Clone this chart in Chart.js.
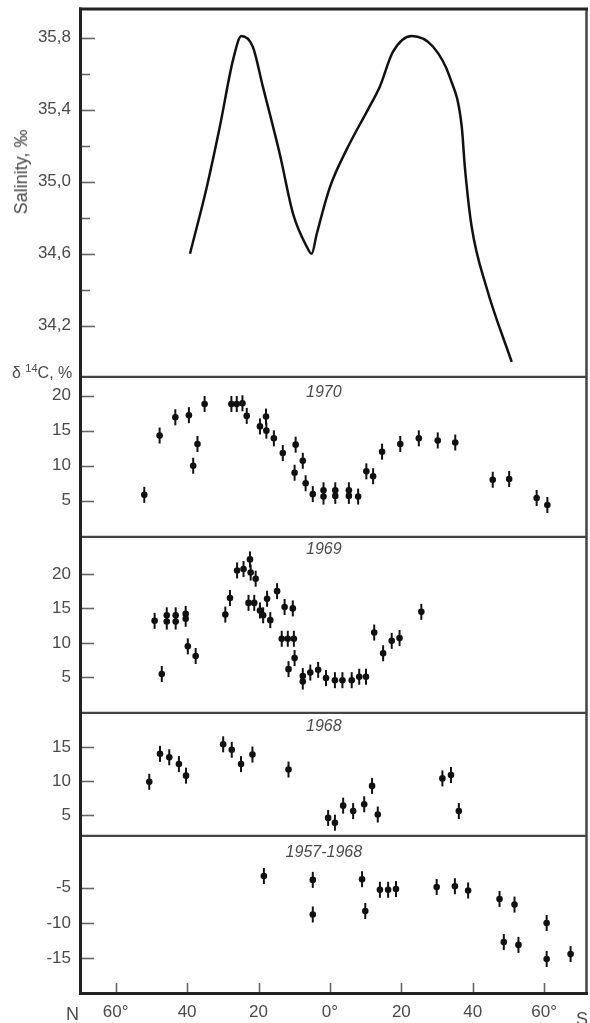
<!DOCTYPE html>
<html><head><meta charset="utf-8">
<script src="https://cdn.jsdelivr.net/npm/chart.js@4.4.1/dist/chart.umd.min.js"></script>
<style>
html,body{margin:0;padding:0;background:#fff;}
#wrap{position:relative;width:590px;height:1023px;overflow:hidden;font-family:"Liberation Sans",Arial,sans-serif;}
canvas{position:absolute;left:0;}
.lbl{position:absolute;color:#4a4a4a;font-size:16px;white-space:nowrap;line-height:1;}
.lbl sup{font-size:11px;vertical-align:6px;line-height:0;}
</style></head><body>
<div id="wrap">
<canvas id="c0" width="590" height="378" style="top:0"></canvas>
<canvas id="c1" width="590" height="160" style="top:378px"></canvas>
<canvas id="c2" width="590" height="176" style="top:538px"></canvas>
<canvas id="c3" width="590" height="123" style="top:714px"></canvas>
<canvas id="c4" width="590" height="186" style="top:837px"></canvas>
<div class="lbl" style="left:21px;top:172px;font-size:18px;transform:translate(-50%,-50%) rotate(-90deg);">Salinity, ‰</div>
<div class="lbl" style="left:12px;top:365px;">δ <sup>14</sup>C, %</div>
<div class="lbl" style="left:66px;top:1005px;font-size:18px;">N</div>
<div class="lbl" style="left:576px;top:1010px;font-size:18px;">S</div>
</div>
<script>
// ---- data ----
const salLat = [-39.2,-34.5,-30.8,-27.1,-24.8,-21.6,-18.8,-14.0,-10.3,-6.5,-5.1,-3.7,0,4.7,10.6,14.0,17.6,22.9,28.9,33.6,36.9,37.8,39.7,43.9,50.9];
const salVal = [34.60,34.97,35.31,35.68,35.81,35.75,35.53,35.15,34.82,34.64,34.60,34.71,34.97,35.18,35.40,35.53,35.72,35.81,35.75,35.58,35.31,35.08,34.75,34.41,34.00];
const salTicks = [34.2,34.4,34.6,34.8,35.0,35.2,35.4,35.6,35.8];
const salLabeled = [34.2,34.6,35.0,35.4,35.8];

const lat1970 = [-52.0,-47.7,-43.3,-39.5,-38.3,-37.1,-35.1,-27.6,-26.1,-24.5,-23.3,-19.6,-17.9,-17.8,-15.7,-13.2,-9.6,-9.9,-7.6,-6.8,-4.8,-1.8,-1.8,1.5,1.5,5.3,5.3,7.9,10.2,12.1,14.6,19.7,24.9,30.2,35.1,45.6,50.2,57.9,60.9];
const val1970 = [5.85,14.3,16.9,17.2,10.0,13.1,18.8,18.8,18.8,18.9,17.1,15.6,17.0,15.0,13.9,11.8,13.0,9.0,10.7,7.5,5.95,6.5,5.6,6.5,5.7,6.5,5.7,5.6,9.2,8.5,12.0,13.1,13.9,13.6,13.3,8.0,8.1,5.4,4.4];

const lat1969 = [-49.1,-47.1,-45.7,-45.7,-43.2,-43.2,-40.4,-40.4,-39.8,-37.6,-29.3,-28.0,-26.0,-24.2,-22.4,-22.2,-22.8,-21.2,-20.8,-19.6,-18.7,-17.6,-16.7,-14.8,-12.7,-13.5,-11.8,-10.1,-10.4,-11.6,-9.9,-7.6,-7.6,-5.5,-3.3,-1.1,1.4,3.5,6.1,8.2,10.1,12.4,14.9,17.3,19.5,25.6];
const val1969 = [13.2,5.5,14.0,13.1,14.0,13.1,14.2,13.5,9.5,8.1,14.1,16.5,20.5,20.7,22.1,20.2,15.8,15.8,19.3,14.7,14.0,16.4,13.3,17.5,15.2,10.6,10.6,10.6,15.0,6.2,7.8,5.2,4.4,5.7,6.1,4.9,4.6,4.6,4.6,5.1,5.1,11.5,8.5,10.3,10.7,14.5];

const lat1968 = [-50.6,-47.6,-45.0,-42.3,-40.3,-29.9,-27.5,-24.9,-21.7,-11.6,-0.5,1.4,3.7,6.5,9.6,11.8,13.4,31.5,33.9,36.1];
const val1968 = [9.9,14.0,13.5,12.5,10.8,15.4,14.6,12.5,13.9,11.7,4.6,3.9,6.4,5.6,6.6,9.3,5.1,10.4,10.9,5.6];

const latOld = [-18.5,-4.8,-4.8,9.0,9.9,14.0,16.3,18.5,29.9,35.0,38.7,47.5,51.7,48.7,52.8,60.7,60.7,67.4];
const valOld = [-3.35,-3.9,-8.8,-3.8,-8.3,-5.3,-5.3,-5.2,-4.9,-4.8,-5.4,-6.6,-7.4,-12.7,-13.1,-10.0,-15.1,-14.4];

const xTicks = [-60,-40,-20,0,20,40,60];
const xTickLabels = ['60°','40','20','0°','20','40','60°'];

// ---- helpers ----
const FONT = "'Liberation Sans', Arial, sans-serif";
const TXT = '#4a4a4a';
function pts(xs, ys){ return xs.map((x,i)=>({x:x, y:ys[i]})); }
function zeroPad(s){ s.paddingTop = 0; s.paddingBottom = 0; s.paddingLeft = 0; s.paddingRight = 0; }

function frame(o){
  return { id:'frame', afterDraw(chart){
    const ctx = chart.ctx, a = chart.chartArea, ys = chart.scales.y, xs = chart.scales.x;
    ctx.save();
    ctx.strokeStyle = '#666'; ctx.lineWidth = 1.6;
    for (const t of ys.ticks){
      const py = Math.round(ys.getPixelForValue(t.value))+0.5;
      const len = (o.minorLen && t.label === '') ? o.minorLen : o.tickLen;
      ctx.beginPath(); ctx.moveTo(a.left, py); ctx.lineTo(a.left+len, py); ctx.stroke();
    }
    if (o.xTicks){
      for (const v of xTicks){
        const px = Math.round(xs.getPixelForValue(v))+0.5;
        ctx.beginPath(); ctx.moveTo(px, a.bottom); ctx.lineTo(px, a.bottom-11); ctx.stroke();
      }
    }
    ctx.strokeStyle = '#444'; ctx.lineWidth = 2.5;
    ctx.beginPath(); ctx.moveTo(a.right-0.5, a.top); ctx.lineTo(a.right-0.5, a.bottom); ctx.stroke();
    if (o.sepBottom){
      ctx.beginPath(); ctx.moveTo(a.left, a.bottom-1); ctx.lineTo(a.right, a.bottom-1); ctx.stroke();
    }
    ctx.strokeStyle = '#222'; ctx.lineWidth = 3;
    ctx.beginPath(); ctx.moveTo(a.left+0.5, o.top ? a.top-1.5 : a.top); ctx.lineTo(a.left+0.5, a.bottom); ctx.stroke();
    if (o.top){
      ctx.beginPath(); ctx.moveTo(a.left-1, a.top); ctx.lineTo(a.right+1, a.top); ctx.stroke();
    }
    if (o.bottom){
      ctx.beginPath(); ctx.moveTo(a.left-1, a.bottom-0.5); ctx.lineTo(a.right+1, a.bottom-0.5); ctx.stroke();
    }
    if (o.year){
      ctx.fillStyle = TXT; ctx.font = 'italic 16px ' + FONT;
      ctx.textAlign = 'center'; ctx.textBaseline = 'middle';
      ctx.fillText(o.year, xs.getPixelForValue(-1.7), a.top + o.yearOff);
    }
    ctx.restore();
  }};
}

function yScale(min, max, ticks, labelFn){
  return {
    type:'linear', position:'left', min:min, max:max,
    afterFit(s){ s.width = 80; zeroPad(s); },
    afterBuildTicks(s){ s.ticks = ticks.map(v=>({value:v})); },
    grid:{display:false, drawTicks:false}, border:{display:false},
    ticks:{ color:TXT, font:{family:FONT, size:17}, padding:9, autoSkip:false,
      callback: labelFn }
  };
}

function xScale(show){
  return {
    type:'linear', min:-70, max:72, display: show,
    afterFit(s){ if (show) s.height = 29; zeroPad(s); },
    afterBuildTicks(s){ s.ticks = xTicks.map(v=>({value:v})); },
    grid:{display:false, drawTicks:false}, border:{display:false},
    ticks:{ color:TXT, font:{family:FONT, size:17}, padding:8, autoSkip:false, maxRotation:0,
      callback:(v)=>{ const i = xTicks.indexOf(v); return i>=0 ? xTickLabels[i] : ''; } }
  };
}

function pointSets(xs, ys){
  const d = pts(xs, ys);
  return [
    { data:d, pointStyle:'line', rotation:90, pointRadius:8, pointBorderWidth:2,
      borderColor:'#111', backgroundColor:'#111', showLine:false },
    { data:d, pointStyle:'circle', pointRadius:3.3, pointBorderWidth:0,
      borderColor:'#111', backgroundColor:'#111', showLine:false }
  ];
}

const base = { responsive:false, animation:false, devicePixelRatio:1, events:[],
  plugins:{legend:{display:false}, tooltip:{enabled:false}} };

function makeChart(id, datasets, yOpts, xShow, padTop, frameOpts){
  return new Chart(document.getElementById(id), {
    type:'scatter',
    data:{ datasets: datasets },
    options: Object.assign({}, base, {
      layout:{ autoPadding:false, padding:{ top:padTop, right:3, bottom:0, left:0 } },
      scales:{ x: xScale(xShow), y: yOpts }
    }),
    plugins:[frame(frameOpts)]
  });
}

makeChart('c0', [{
    data: pts(salLat, salVal), showLine:true, cubicInterpolationMode:'monotone',
    borderColor:'#111', borderWidth:2.5, pointRadius:0, fill:false
  }],
  yScale(33.91, 35.96, salTicks, (v)=> salLabeled.some(s=>Math.abs(s-v)<1e-6) ? v.toFixed(1).replace('.',',') : ''),
  false, 9, {tickLen:15, minorLen:10, top:true, sepBottom:true});

makeChart('c1', pointSets(lat1970, val1970),
  yScale(-0.3, 22.5, [5,10,15,20], (v)=>String(v)),
  false, 0, {tickLen:14, sepBottom:true, year:'1970', yearOff:15});

makeChart('c2', pointSets(lat1969, val1969),
  yScale(-0.3, 25.2, [5,10,15,20], (v)=>String(v)),
  false, 0, {tickLen:14, sepBottom:true, year:'1969', yearOff:12});

makeChart('c3', pointSets(lat1968, val1968),
  yScale(1.8, 19.85, [5,10,15], (v)=>String(v)),
  false, 0, {tickLen:14, sepBottom:true, year:'1968', yearOff:13});

makeChart('c4', pointSets(latOld, valOld),
  yScale(-20.05, 2.17, [-15,-10,-5], (v)=>String(v)),
  true, 0, {tickLen:14, bottom:true, xTicks:true, year:'1957-1968', yearOff:16});
</script>
</body></html>
